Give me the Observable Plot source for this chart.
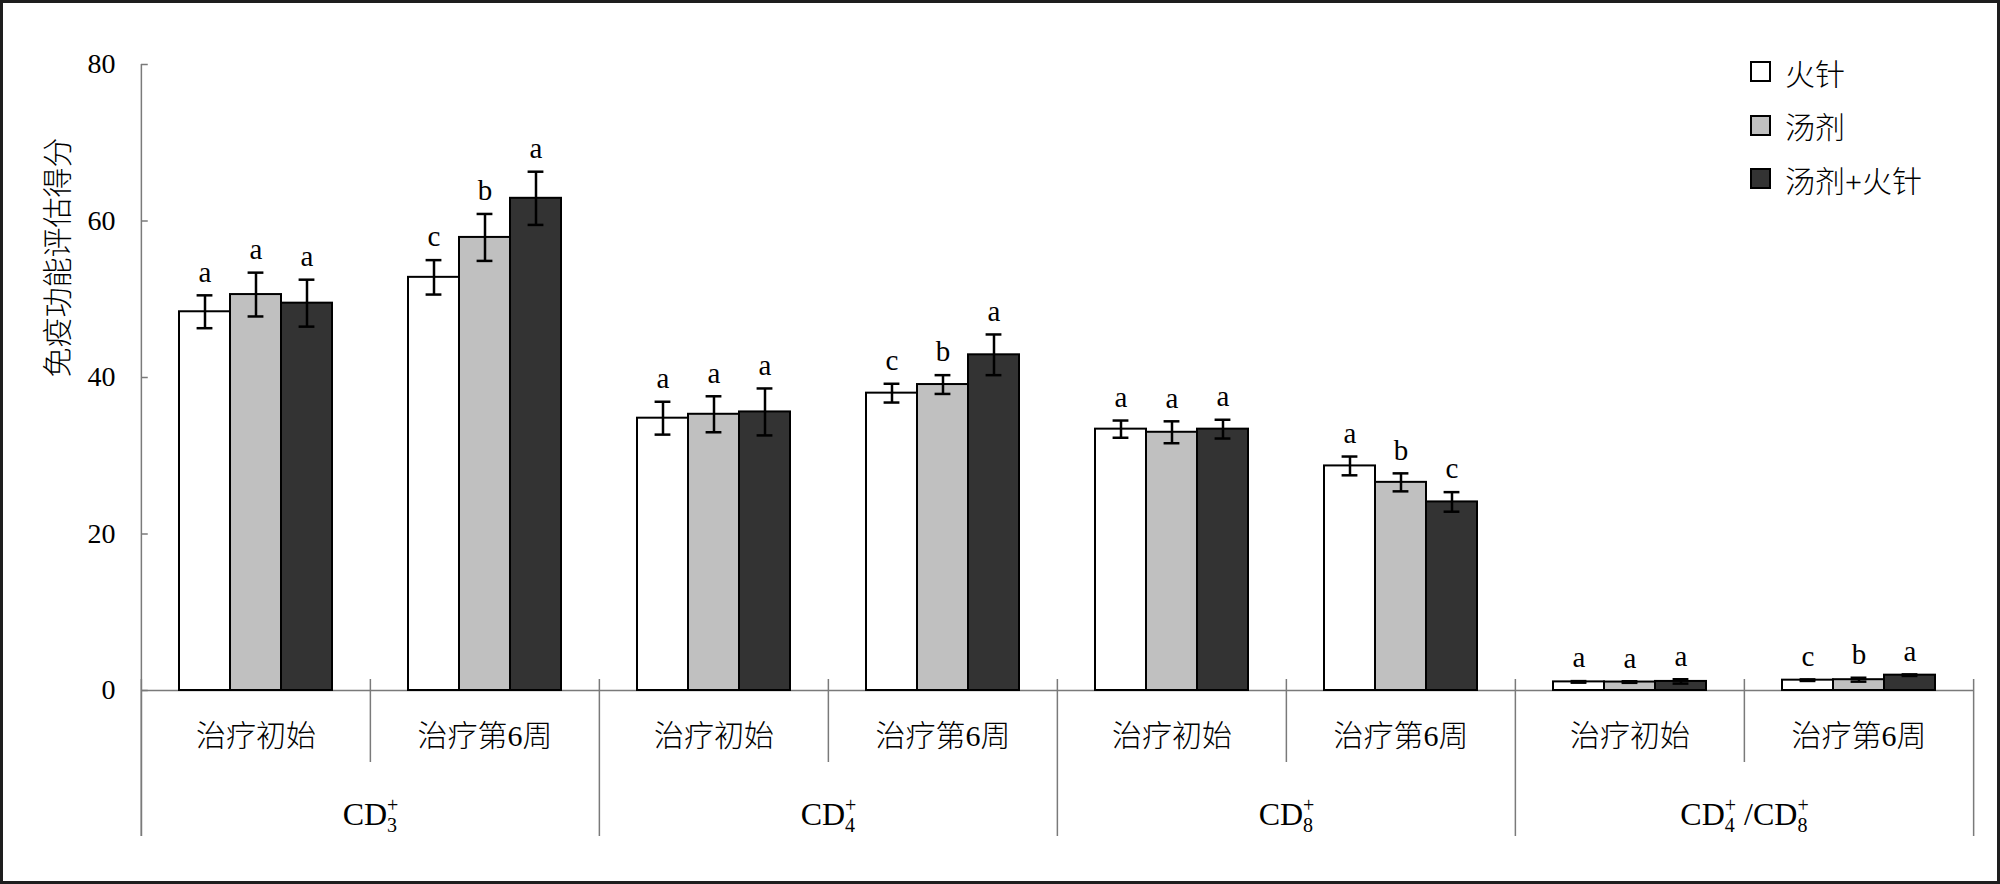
<!DOCTYPE html>
<html>
<head>
<meta charset="utf-8">
<script src="https://cdn.jsdelivr.net/npm/d3@7"></script>
<script src="https://cdn.jsdelivr.net/npm/@observablehq/plot@0.6"></script>
<style>
html,body{margin:0;padding:0;background:#fff;}
#wrap{position:relative;width:2000px;height:884px;overflow:hidden;background:#fff;}
#frame{position:absolute;left:0;top:0;width:2000px;height:884px;box-sizing:border-box;border:3px solid #1e1e1e;pointer-events:none;}
#legend{position:absolute;left:1750px;top:45px;font-family:'Liberation Serif','Noto Sans CJK SC',serif;font-size:30px;font-weight:300;color:#000;}
.item{display:flex;align-items:center;height:53.5px;}
.sw{width:17px;height:17px;border:2px solid #000;margin-right:14px;}
</style>
</head>
<body>
<div id="wrap"><div id="legend"></div><div id="frame"></div></div>
<script>
// ---- data ----
const groups = ["CD3+", "CD4+", "CD8+", "CD4+ /CD8+"];
const periods = ["治疗初始", "治疗第6周"];
const series = ["火针", "汤剂", "汤剂+火针"];
// one value per subgroup (group × period), in order CD3 初始, CD3 第6周, CD4 初始, ...
const meanHuozhen = [48.4, 52.8, 34.8, 38.0, 33.4, 28.7, 1.10, 1.32];
const meanTangji  = [50.6, 57.9, 35.3, 39.1, 33.0, 26.6, 1.08, 1.38];
const meanCombo   = [49.5, 62.9, 35.6, 42.9, 33.4, 24.1, 1.16, 1.96];
const errHuozhen  = [2.1, 2.2, 2.1, 1.2, 1.1, 1.2, 0.10, 0.10];
const errTangji   = [2.8, 3.0, 2.3, 1.2, 1.4, 1.15, 0.10, 0.25];
const errCombo    = [3.0, 3.4, 3.0, 2.6, 1.2, 1.25, 0.28, 0.10];
const letterHuozhen = ["a", "c", "a", "c", "a", "a", "a", "c"];
const letterTangji  = ["a", "b", "a", "b", "a", "b", "a", "b"];
const letterCombo   = ["a", "a", "a", "a", "a", "c", "a", "a"];
const yTicks = [0, 20, 40, 60, 80];
const yLabel = "免疫功能评估得分";
const fills = ["#ffffff", "#c0c0c0", "#333333"];

// ---- layout ----
const W = 2000, H = 884, ML = 140, MR = 26, MT = 64, MB = 194;
const FONT = "'Liberation Serif','Noto Sans CJK SC',serif";
const keys = [];
groups.forEach(g => periods.forEach(p => keys.push(g + "|" + p)));
const fw = (W - ML - MR) / keys.length;
const PO = 0.74;
const bw = fw / (series.length + 2 * PO);
const capInset = (bw - 16) / 2;
const plotH = H - MT - MB;
const axisGray = "#7a7a7a";

const means = [meanHuozhen, meanTangji, meanCombo];
const errs = [errHuozhen, errTangji, errCombo];
const letters = [letterHuozhen, letterTangji, letterCombo];
const rows = [];
keys.forEach((k, i) => series.forEach((s, j) => rows.push({
  key: k, series: s, value: means[j][i], err: errs[j][i], letter: letters[j][i]
})));

const minorKeys = keys.filter(k => k.endsWith("|" + periods[1]));
const majorKeys = keys.filter(k => k.endsWith("|" + periods[0]));
const ruleStyle = {x: null, stroke: axisGray, strokeWidth: 1.5};

const chart = Plot.plot({
  width: W, height: H,
  marginLeft: ML, marginRight: MR, marginTop: MT, marginBottom: MB,
  style: {fontFamily: FONT, fontSize: "28px", color: "#000", background: "transparent"},
  fx: {domain: keys, paddingInner: 0, paddingOuter: 0, label: null},
  x: {domain: series, paddingInner: 0, paddingOuter: PO, axis: null},
  y: {domain: [0, 80], label: null},
  color: {domain: series, range: fills},
  marks: [
    // baseline
    Plot.ruleY([0], {stroke: axisGray, strokeWidth: 1.5}),
    // y axis line extended down as first major divider
    Plot.ruleX([keys[0]], {...ruleStyle, fx: d => d, dx: -fw / 2, insetBottom: -146}),
    // inward y ticks
    Plot.tickY(yTicks, {y: d => d, fx: () => keys[0], insetRight: fw - 7, stroke: axisGray, strokeWidth: 1.5}),
    // major dividers
    Plot.ruleX(majorKeys, {...ruleStyle, fx: d => d, dx: -fw / 2, insetTop: plotH - 11, insetBottom: -146}),
    Plot.ruleX([keys[keys.length - 1]], {...ruleStyle, fx: d => d, dx: fw / 2, insetTop: plotH - 11, insetBottom: -146}),
    // minor dividers
    Plot.ruleX(minorKeys, {...ruleStyle, fx: d => d, dx: -fw / 2, insetTop: plotH - 11, insetBottom: -72}),
    // bars
    Plot.barY(rows, {fx: "key", x: "series", y: "value", fill: "series", stroke: "#000", strokeWidth: 2}),
    // error bars
    Plot.ruleX(rows, {fx: "key", x: "series", y1: d => d.value - d.err, y2: d => d.value + d.err, stroke: "#000", strokeWidth: 2.5}),
    Plot.tickY(rows, {fx: "key", x: "series", y: d => d.value - d.err, insetLeft: capInset, insetRight: capInset, stroke: "#000", strokeWidth: 2.5}),
    Plot.tickY(rows, {fx: "key", x: "series", y: d => d.value + d.err, insetLeft: capInset, insetRight: capInset, stroke: "#000", strokeWidth: 2.5}),
    // significance letters
    Plot.text(rows, {fx: "key", x: "series", y: d => d.value + d.err, text: "letter", dy: -23, fontSize: 29, fill: "#000"}),
    // axes
    Plot.axisY({ticks: yTicks, tickSize: 0, tickPadding: 26, fontSize: 28, label: null, fill: "#000"}),
    Plot.axisFx({anchor: "bottom", tickSize: 0, tickPadding: 34, fontSize: 30, fontWeight: 300, label: null, tickFormat: d => d.split("|")[1], fill: "#000"}),
    // major group labels
    Plot.text(groups, {fx: d => d + "|" + periods[1], text: d => d, frameAnchor: "left", y: () => 0, dy: 124, fontSize: 32, textAnchor: "middle", fill: "#000"}),
    // y label
    Plot.text([yLabel], {fx: () => keys[0], text: d => d, frameAnchor: "left", dx: -83, rotate: -90, fontSize: 30, fontWeight: 300, fill: "#000"})
  ]
});

// rich formatting: stacked subscript digit / superscript +
const ns = "http://www.w3.org/2000/svg";
function rich(t, s) {
  t.textContent = "";
  const parts = s.split(/(\d\+)/);
  let pending = 0;
  for (const p of parts) {
    if (!p) continue;
    if (/^\d\+$/.test(p)) {
      const a = document.createElementNS(ns, "tspan");
      a.textContent = p[0];
      a.setAttribute("font-size", "20");
      a.setAttribute("dy", String(7 + pending));
      t.appendChild(a);
      const b = document.createElementNS(ns, "tspan");
      b.textContent = "+";
      b.setAttribute("font-size", "20");
      b.setAttribute("dx", "-10");
      b.setAttribute("dy", "-20");
      t.appendChild(b);
      pending = 13;
    } else {
      const c = document.createElementNS(ns, "tspan");
      c.textContent = p;
      if (pending) c.setAttribute("dy", String(pending));
      pending = 0;
      t.appendChild(c);
    }
  }
}
chart.querySelectorAll("text").forEach(t => {
  if (groups.includes(t.textContent)) rich(t, t.textContent);
});

chart.style.position = "absolute";
chart.style.left = "0";
chart.style.top = "0";
const wrap = document.getElementById("wrap");
wrap.insertBefore(chart, wrap.firstChild);

// legend
const legend = document.getElementById("legend");
series.forEach((s, i) => {
  const item = document.createElement("div");
  item.className = "item";
  const sw = document.createElement("div");
  sw.className = "sw";
  sw.style.background = fills[i];
  const lab = document.createElement("span");
  lab.textContent = s;
  item.appendChild(sw);
  item.appendChild(lab);
  legend.appendChild(item);
});
</script>
</body>
</html>
